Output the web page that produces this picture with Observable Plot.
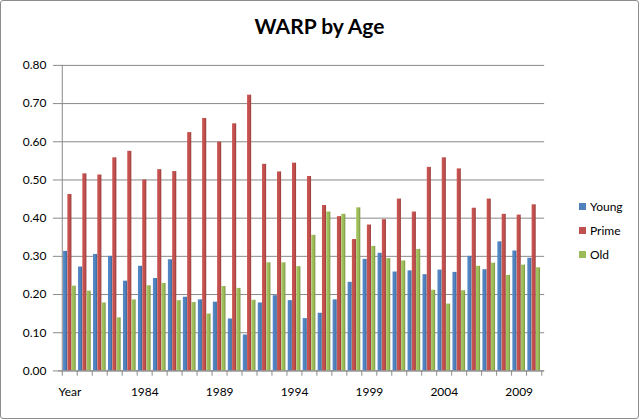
<!DOCTYPE html>
<html>
<head>
<meta charset="utf-8">
<script src="https://cdn.jsdelivr.net/npm/d3@7"></script>
<script src="https://cdn.jsdelivr.net/npm/@observablehq/plot@0.6"></script>
<style>
  html, body { margin: 0; padding: 0; background: #fff; }
  #chart {
    position: relative; width: 639px; height: 419px; box-sizing: border-box;
    border: 1px solid #8c8c8c; border-radius: 3px; overflow: hidden;
    font-family: Lato, "Open Sans", sans-serif;
  }
  #title {
    position: absolute; left: 0; right: 0; top: 12px; text-align: center;
    font-weight: bold; font-size: 21px; color: #000;
  }
  #legend { position: absolute; left: 578px; top: 193px; font-size: 12px; color: #000; }
  #legend div { display: flex; align-items: center; height: 24px; }
  #legend span.sw { display: inline-block; width: 7px; height: 7px; margin-right: 4px; }
  #plot { position: absolute; left: -1px; top: -1px; }
</style>
</head>
<body>
<div id="chart">
  <div id="plot"></div>
  <div id="title">WARP by Age</div>
  <div id="legend"></div>
</div>
<script>
// Seasons (the first row is labelled "Year")
const years = ["Year", "1980", "1981", "1982", "1983", "1984", "1985", "1986", "1987", "1988",
  "1989", "1990", "1991", "1992", "1993", "1994", "1995", "1996", "1997", "1998",
  "1999", "2000", "2001", "2002", "2003", "2004", "2005", "2006", "2007", "2008",
  "2009", "2010"];

const young = [0.313, 0.272, 0.305, 0.300, 0.235, 0.274, 0.242, 0.291, 0.193, 0.186,
  0.180, 0.136, 0.094, 0.178, 0.197, 0.184, 0.137, 0.151, 0.186, 0.232,
  0.292, 0.308, 0.259, 0.262, 0.252, 0.264, 0.258, 0.300, 0.265, 0.338,
  0.314, 0.295];

const prime = [0.462, 0.516, 0.513, 0.558, 0.575, 0.500, 0.527, 0.522, 0.624, 0.661,
  0.599, 0.647, 0.722, 0.541, 0.521, 0.544, 0.509, 0.433, 0.404, 0.344,
  0.382, 0.396, 0.450, 0.416, 0.533, 0.558, 0.529, 0.426, 0.450, 0.410,
  0.408, 0.435];

const old = [0.222, 0.209, 0.178, 0.139, 0.186, 0.223, 0.229, 0.184, 0.179, 0.149,
  0.221, 0.216, 0.185, 0.283, 0.283, 0.273, 0.355, 0.416, 0.410, 0.427,
  0.326, 0.294, 0.288, 0.318, 0.211, 0.175, 0.210, 0.274, 0.282, 0.250,
  0.277, 0.270];

const seriesNames = ["Young", "Prime", "Old"];
const seriesValues = [young, prime, old];
const seriesColors = ["#4F81BD", "#C0504D", "#9BBB59"];
const seriesDark = ["#3a6595", "#973b39", "#77923f"];

const yTicks = [0, 0.1, 0.2, 0.3, 0.4, 0.5, 0.6, 0.7, 0.8];

const W = 639, H = 419;
const mLeft = 58, mRight = 94, mTop = 65, mBottom = 48;
const step = (W - mLeft - mRight) / years.length;
const barW = 4.3;
const offset = (step - 3 * barW) / 2;

const rows = years.map((year, i) => ({ year, i }));

const barMarks = seriesValues.map((vals, s) =>
  Plot.barY(rows, {
    x: "year",
    y: d => vals[d.i],
    fill: `url(#grad${s})`,
    insetLeft: offset + s * barW,
    insetRight: step - offset - (s + 1) * barW
  })
);

const plot = Plot.plot({
  width: W,
  height: H,
  marginLeft: mLeft,
  marginRight: mRight,
  marginTop: mTop,
  marginBottom: mBottom,
  style: { fontFamily: "Lato, 'Open Sans', sans-serif", fontSize: "12px", color: "#000", background: "transparent" },
  x: { type: "band", domain: years, padding: 0 },
  y: { domain: [0, 0.8] },
  marks: [
    Plot.ruleY(yTicks, { stroke: "#8a8a8a", strokeWidth: 1 }),
    ...barMarks,
    // category axis line and tick marks between groups
    Plot.ruleX(years, { x: d => d, dx: -step / 2, y1: 0, y2: -0.014, stroke: "#8a8a8a" }),
    Plot.ruleX([years[years.length - 1]], { dx: step / 2, y1: 0, y2: -0.014, stroke: "#8a8a8a" }),
    Plot.ruleX([years[0]], { dx: -step / 2, y1: 0, y2: 0.8, stroke: "#8a8a8a" }),
    Plot.ruleY([0], { stroke: "#8a8a8a" }),
    Plot.axisY({
      ticks: yTicks, tickFormat: d3.format(".2f"), tickSize: 5, tickPadding: 7,
      stroke: "#8a8a8a", label: null, fontSize: 12
    }),
    Plot.axisX({
      tickSize: 0, tickPadding: 17, label: null, fontSize: 12,
      tickFormat: (d, i) => (years.indexOf(d) % 5 === 0 ? d : "")
    })
  ]
});

// horizontal shading for the bars
const svg = d3.select(plot);
const defs = svg.insert("defs", ":first-child");
seriesColors.forEach((c, s) => {
  const g = defs.append("linearGradient").attr("id", `grad${s}`)
    .attr("x1", "0").attr("x2", "1").attr("y1", "0").attr("y2", "0");
  g.append("stop").attr("offset", "0").attr("stop-color", d3.color(c).brighter(0.15));
  g.append("stop").attr("offset", "0.6").attr("stop-color", c);
  g.append("stop").attr("offset", "1").attr("stop-color", seriesDark[s]);
});

document.getElementById("plot").appendChild(plot);

const legend = document.getElementById("legend");
seriesNames.forEach((name, s) => {
  const item = document.createElement("div");
  const sw = document.createElement("span");
  sw.className = "sw";
  sw.style.background = seriesColors[s];
  item.appendChild(sw);
  item.appendChild(document.createTextNode(name));
  legend.appendChild(item);
});
</script>
</body>
</html>
